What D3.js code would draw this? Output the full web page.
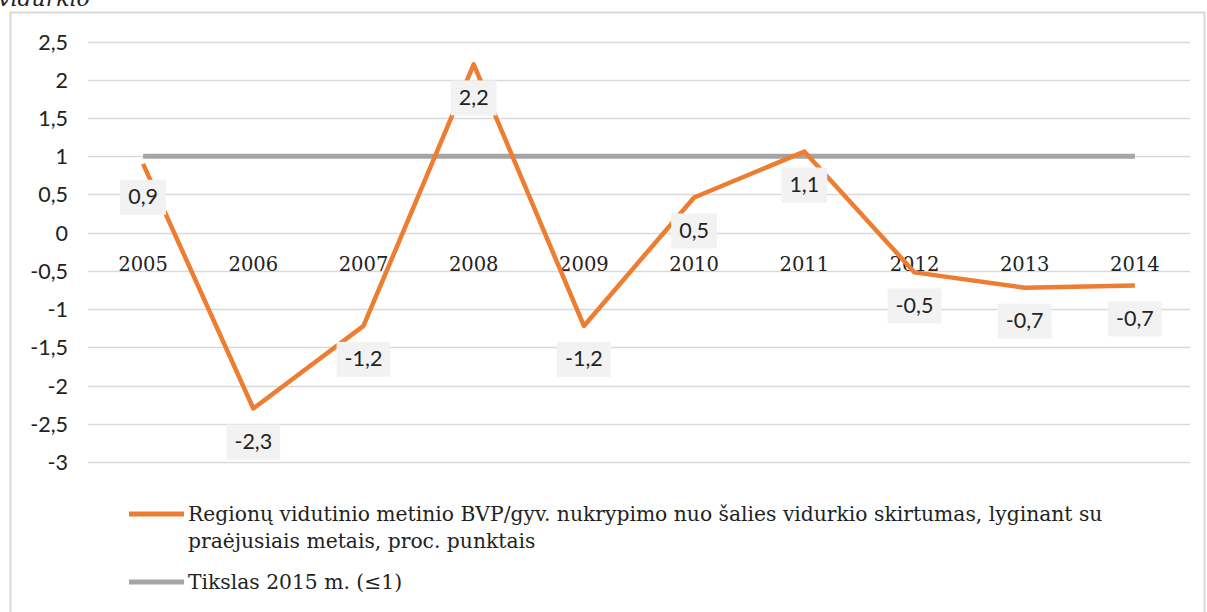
<!DOCTYPE html>
<html><head><meta charset="utf-8">
<script src="https://cdn.jsdelivr.net/npm/d3@7/dist/d3.min.js"></script>
<style>body{margin:0;background:#fff}svg{display:block}</style>
</head><body><svg id="c" width="1207" height="612"></svg>
<script>
const years = ["2005","2006","2007","2008","2009","2010","2011","2012","2013","2014"];
const deviation = [0.9,-2.3,-1.22,2.2,-1.22,0.46,1.06,-0.52,-0.72,-0.69];
const deviationLabels = ["0,9","-2,3","-1,2","2,2","-1,2","0,5","1,1","-0,5","-0,7","-0,7"];
const target = [1,1,1,1,1,1,1,1,1,1];
const yTicks = [2.5,2,1.5,1,0.5,0,-0.5,-1,-1.5,-2,-2.5,-3];
const yTickLabels = ["2,5","2","1,5","1","0,5","0","-0,5","-1","-1,5","-2","-2,5","-3"];
const legendLines = [["Regionų vidutinio metinio BVP/gyv. nukrypimo nuo šalies vidurkio skirtumas, lyginant su","praėjusiais metais, proc. punktais"],["Tikslas 2015 m. (≤1)"]];

const svg = d3.select("#c");
const sans = "Lato, 'Noto Sans', sans-serif";
const serif = "'DejaVu Serif', serif";

// frame
svg.append("rect").attr("x",10.5).attr("y",12.5).attr("width",1194).attr("height",640)
  .attr("fill","none").attr("stroke","#d9d9d9").attr("stroke-width",2);
svg.append("text").attr("x",-2).attr("y",6).attr("font-family",serif).attr("font-style","italic")
  .attr("font-size",22).attr("fill","#222").text("vidurkio");

const x = d3.scaleBand().domain(years).range([88,1190]);
const y = d3.scaleLinear().domain([-3,2.5]).range([462,41.5]);

// gridlines
svg.append("g").selectAll("line").data(yTicks).join("line")
  .attr("x1",88).attr("x2",1190).attr("y1",d=>Math.round(y(d))+0.5).attr("y2",d=>Math.round(y(d))+0.5)
  .attr("stroke","#d9d9d9").attr("stroke-width",1.5);

// y axis labels
const yAxis = d3.axisLeft(y).tickValues(yTicks).tickSize(0).tickPadding(0)
  .tickFormat((d,i)=>yTickLabels[i]);
const ya = svg.append("g").attr("transform","translate(68,0)").call(yAxis);
ya.select(".domain").remove();
ya.selectAll("text").attr("font-family",sans).attr("font-size",21.5).attr("fill","#222").attr("dy","0.35em");

// x labels at zero
const xAxis = d3.axisBottom(x).tickSize(0).tickPadding(0);
const xa = svg.append("g").attr("transform",`translate(0,${y(0)})`).call(xAxis);
xa.select(".domain").remove();
xa.selectAll("text").attr("font-family",serif).attr("font-size",19.5).attr("fill","#222").attr("dy","1.95em");

const cx = d => x(d)+x.bandwidth()/2;

// target line
svg.append("path").datum(target.map((v,i)=>[years[i],v]))
  .attr("d",d3.line().x(d=>cx(d[0])).y(d=>y(d[1])))
  .attr("fill","none").attr("stroke","#a5a5a5").attr("stroke-width",5);

// deviation line
svg.append("path").datum(deviation.map((v,i)=>[years[i],v]))
  .attr("d",d3.line().x(d=>cx(d[0])).y(d=>y(d[1])))
  .attr("fill","none").attr("stroke","#ed7d31").attr("stroke-width",4.5).attr("stroke-linejoin","round");

// data labels
const lg = svg.append("g");
deviation.forEach((v,i)=>{
  const px = cx(years[i]), py = y(v)+33;
  const g = lg.append("g");
  const t = g.append("text").attr("x",px).attr("y",py).attr("dy","0.35em").attr("text-anchor","middle")
    .attr("font-family",sans).attr("font-size",21.5).attr("fill","#222").text(deviationLabels[i]);
  const w = t.node().getComputedTextLength();
  g.insert("rect","text").attr("x",px-w/2-8).attr("y",py-17).attr("width",w+16).attr("height",35).attr("fill","#f2f2f2");
});

// legend
const legColors = ["#ed7d31","#a5a5a5"];
const legY = [514,582];
legendLines.forEach((lines,i)=>{
  svg.append("line").attr("x1",129).attr("x2",184).attr("y1",legY[i]).attr("y2",legY[i])
    .attr("stroke",legColors[i]).attr("stroke-width",5);
  lines.forEach((s,j)=>{
    svg.append("text").attr("x",188).attr("y",legY[i]+7+j*27).attr("font-family",serif)
      .attr("font-size",20.3).attr("fill","#222").text(s);
  });
});
</script></body></html>
